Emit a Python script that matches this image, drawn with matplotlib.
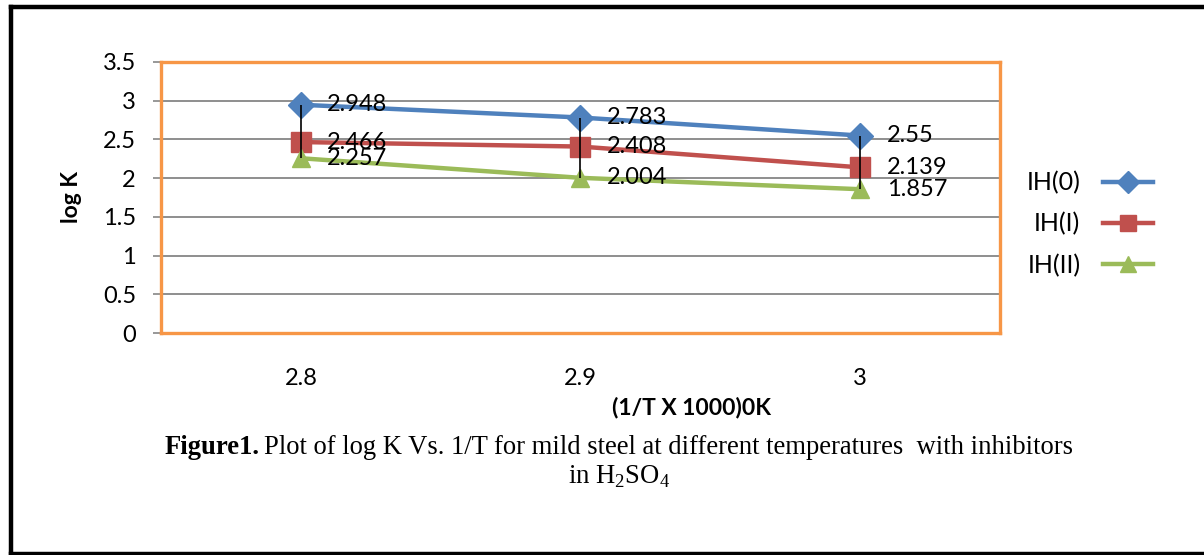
import matplotlib

matplotlib.use("Agg")
import matplotlib.pyplot as plt
from matplotlib.lines import Line2D

# values
inv_temp = ["2.8", "2.9", "3"]
ih0 = [2.948, 2.783, 2.55]
ih1 = [2.466, 2.408, 2.139]
ih2 = [2.257, 2.004, 1.857]
series_names = ["IH(0)", "IH(I)", "IH(II)"]
y_ticks = [0, 0.5, 1, 1.5, 2, 2.5, 3, 3.5]

BLUE = "#4F81BD"
RED = "#C0504D"
GREEN = "#9BBB59"
ORANGE = "#F79646"
GRID = "#868686"

plt.rcParams["font.family"] = ["Lato", "DejaVu Sans"]
plt.rcParams["mathtext.fontset"] = "custom"
plt.rcParams["mathtext.rm"] = "Liberation Serif"

fig = plt.figure(figsize=(12.04, 5.55), dpi=100)
W, H = 1204, 555
ax = fig.add_axes([161 / W, 1 - 333 / H, (1000 - 161) / W, (333 - 62) / H])

xs = list(range(len(inv_temp)))
ax.set_xlim(-0.5, len(inv_temp) - 0.5)
ax.set_ylim(0, 3.5)

ax.plot(xs, ih0, color=BLUE, lw=3.2, marker="D", ms=13, label=series_names[0], zorder=4)
ax.plot(xs, ih1, color=RED, lw=3.2, marker="s", ms=14, label=series_names[1], zorder=4)
ax.plot(xs, ih2, color=GREEN, lw=3.2, marker="^", ms=13, label=series_names[2], zorder=4)

# high-low lines
lows = [min(v) for v in zip(ih0, ih1, ih2)]
highs = [max(v) for v in zip(ih0, ih1, ih2)]
ax.vlines(xs, lows, highs, color="black", lw=1.2, zorder=6)

for series in (ih0, ih1, ih2):
    for x, v in zip(xs, series):
        ax.annotate(f"{v:g}", (x, v), xytext=(19, 0), textcoords="offset points",
                    ha="left", va="center", fontsize=17, zorder=7)

ax.set_yticks(y_ticks)
ax.set_yticklabels([f"{t:g}" for t in y_ticks], fontsize=17)
ax.set_xticks(xs)
ax.set_xticklabels(inv_temp, fontsize=17)
ax.tick_params(axis="y", length=6, color=GRID, width=1.2, pad=12)
ax.tick_params(axis="x", length=0, pad=25)
ax.grid(True, axis="y", color=GRID, lw=1.3, zorder=1)
ax.set_axisbelow(True)
for sp in ax.spines.values():
    sp.set_color(ORANGE)
    sp.set_linewidth(2.4)
ax.axvline(-0.5, color=GRID, lw=1.0, zorder=2)
ax.axhline(0, color=GRID, lw=1.0, zorder=2)

fig.text(72 / W, 1 - 197 / H, "log K", rotation=90, ha="center", va="center",
         fontsize=16.5, fontweight="bold")
fig.text(691 / W, 1 - 408 / H, "(1/T X 1000)0K", ha="center", va="center",
         fontsize=16.5, fontweight="bold")

handles = [
    Line2D([], [], color=BLUE, lw=3.2, marker="D", ms=11),
    Line2D([], [], color=RED, lw=3.2, marker="s", ms=12),
    Line2D([], [], color=GREEN, lw=3.2, marker="^", ms=11),
]
fig.legend(handles, series_names, loc="center left", bbox_to_anchor=(1014 / W, 1 - 224 / H),
           frameon=False, markerfirst=False, fontsize=18, handlelength=2.0,
           handletextpad=0.9, labelspacing=0.72, borderpad=0)

# caption
fig_lbl = fig.text(165 / W, 1 - 448 / H, "Figure1.", ha="left", va="center",
                   family="Liberation Serif", fontsize=19.2, fontweight="bold")
ax.annotate("Plot of log K Vs. 1/T for mild steel at different temperatures  with inhibitors",
            xy=(1, 0.5), xycoords=fig_lbl, xytext=(3, 0), textcoords="offset points",
            ha="left", va="center", family="Liberation Serif", fontsize=19.2,
            annotation_clip=False)
fig.text(619 / W, 1 - 477 / H, r"in H$_2$SO$_4$", ha="center", va="center",
         family="Liberation Serif", fontsize=19.2)

# outer frame
for xy in ([[10.5, 10.5], [6.5, 553.5]], [[10.5, 1210], [6.5, 6.5]], [[10.5, 1210], [553.5, 553.5]]):
    fig.add_artist(Line2D([p / W for p in xy[0]], [1 - p / H for p in xy[1]],
                          color="black", lw=3.2, transform=fig.transFigure))

fig.savefig("out.png", dpi=100)
